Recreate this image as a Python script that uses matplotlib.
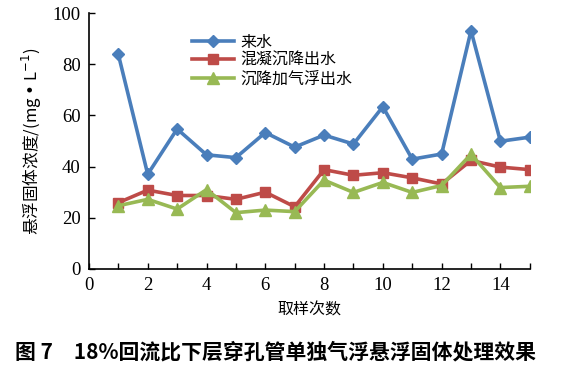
import matplotlib
matplotlib.use("Agg")
import matplotlib.pyplot as plt

plt.rcParams['font.family'] = ['Noto Sans CJK SC', 'DejaVu Sans']

# sample number
x = list(range(1, 16))

# suspended solids, mg/L
raw = [83.8, 37.0, 54.7, 44.6, 43.5, 53.3, 47.6, 52.3, 48.8, 63.4, 42.9, 44.9, 93.1, 49.9, 51.5]
settled = [25.9, 30.8, 28.7, 28.7, 27.2, 30.0, 24.3, 38.8, 36.6, 37.6, 35.6, 33.2, 42.4, 39.8, 38.8]
floated = [24.7, 27.2, 23.4, 31.0, 22.0, 23.0, 22.4, 34.7, 29.9, 33.8, 29.9, 32.6, 44.8, 31.8, 32.3]

names = ['来水', '混凝沉降出水', '沉降加气浮出水']
yticks = list(range(0, 101, 20))

fig = plt.figure(figsize=(5.63, 3.72), dpi=100)
ax = fig.add_axes([0.158, 0.277, 0.783, 0.688])

ax.plot(x, raw, '-D', color='#4A7EBB', lw=2.6, ms=6, label=names[0])
ax.plot(x, settled, '-s', color='#BE4B48', lw=2.6, ms=7, label=names[1])
ax.plot(x, floated, '-^', color='#98B954', lw=2.6, ms=8, label=names[2])

ax.set_xlim(0, 15)
ax.set_ylim(0, 100)
ax.set_xticks(range(0, 16))
ax.set_xticklabels([str(i) if i % 2 == 0 else '' for i in range(0, 16)])
ax.set_yticks(yticks)
ax.tick_params(direction='in', length=4, width=1, pad=6)
for lab in ax.get_xticklabels() + ax.get_yticklabels():
    lab.set_family(['Liberation Serif', 'Noto Sans CJK SC'])
    lab.set_fontsize(13.5)

ax.spines['top'].set_visible(False)
ax.spines['right'].set_visible(False)
ax.spines['left'].set_linewidth(1.2)
ax.spines['bottom'].set_linewidth(1.2)

ax.set_xlabel('取样次数', fontsize=11.5, labelpad=5)
ax.set_ylabel('悬浮固体浓度/(mg • L$^{-1}$)', fontsize=12, labelpad=6)

ax.legend(loc='upper left', bbox_to_anchor=(0.22, 0.945), frameon=False,
          fontsize=11.5, handlelength=2.6, handletextpad=0.4, labelspacing=0.1,
          borderaxespad=0)

fig.text(0.49, 0.055, '图 7　18%回流比下层穿孔管单独气浮悬浮固体处理效果',
         ha='center', va='center', fontsize=15, fontweight='bold')

fig.savefig('out.png', dpi=100)
